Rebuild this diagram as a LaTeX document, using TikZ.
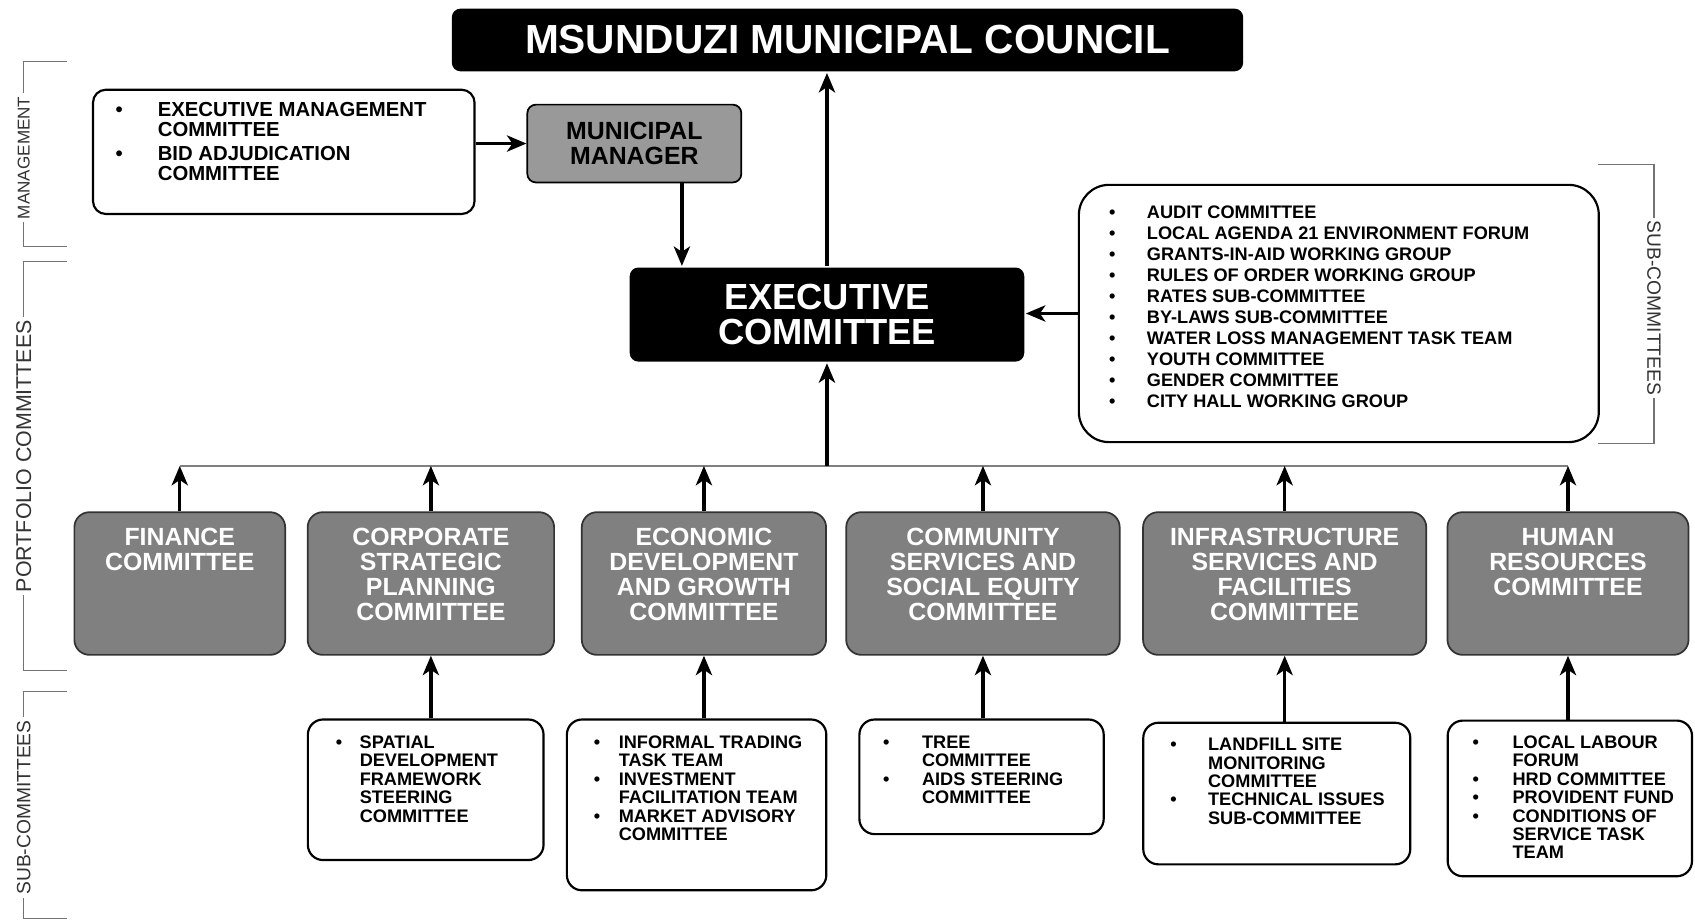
\documentclass[tikz,border=0pt]{standalone}
\usepackage{fontspec}
\setmainfont{Liberation Sans}
\usepackage{tikz}
\usetikzlibrary{arrows.meta,positioning}
\tikzstyle{council}=[rectangle, rounded corners=4pt, fill=black, text=white, inner sep=0pt, align=center]
\tikzstyle{mm}=[rectangle, draw=black, line width=0.8pt, rounded corners=4pt, fill=black!40, inner sep=0pt, align=center, font=\fontsize{11.5}{11.5}\selectfont\bfseries]
\tikzstyle{port}=[rectangle, draw=black!80, line width=0.8pt, rounded corners=7pt, fill=black!50, text=white, inner sep=0pt, font=\fontsize{11.5}{11.5}\selectfont\bfseries]
\tikzstyle{blist}=[rectangle, draw=black, line width=1pt, rounded corners=7pt, fill=white, inner sep=0pt, font=\fontsize{8.4}{8.5}\selectfont\bfseries]
\tikzstyle{bracket}=[-, draw=black!55, line width=0.6pt]
\tikzstyle{side}=[fill=white, inner sep=1.5pt, text=black!80]
\newcommand{\boxtxt}[4]{\parbox[c][#2][t]{#1}{\vspace*{#3}#4}}

\begin{document}
\begin{tikzpicture}[x=0.5pt, y=-0.5pt, ->, >={Stealth[length=9pt,width=7.5pt,inset=2.5pt]}, line width=1.5pt]
\useasboundingbox (0,0) rectangle (1568,854);
%
  \node[council, font=\fontsize{18.8}{20}\selectfont\bfseries, minimum width=366pt, minimum height=29pt] (council) at (784,37) {MSUNDUZI MUNICIPAL COUNCIL};
  \node[blist, rounded corners=6pt, anchor=north west, font=\fontsize{9.4}{9}\selectfont\bfseries] (mlist) at (85,82) {\boxtxt{176.5pt}{57.5pt}{6pt}{\hspace*{10.5pt}\begin{tabular}[t]{@{}p{19.5pt}@{}l@{}}
    \textbullet & EXECUTIVE MANAGEMENT\\
     & COMMITTEE\\[1.5pt]
    \textbullet & BID ADJUDICATION\\
     & COMMITTEE
  \end{tabular}}};
  \node[mm, anchor=north west, minimum width=99pt, minimum height=36pt] (mm) at (487,96) {MUNICIPAL\\MANAGER};
  \node[council, font=\fontsize{16.8}{16.5}\selectfont\bfseries, anchor=north west, minimum width=182.5pt, minimum height=43.5pt] (exec) at (581,246) {EXECUTIVE\\COMMITTEE};
  \node[blist, rounded corners=14pt, anchor=north west, font=\fontsize{8.4}{9.7}\selectfont\bfseries] (subs) at (997,170) {\boxtxt{240.5pt}{119pt}{9pt}{\hspace*{14pt}\begin{tabular}[t]{@{}p{17.5pt}@{}l@{}}
    \textbullet & AUDIT COMMITTEE\\
    \textbullet & LOCAL AGENDA 21 ENVIRONMENT FORUM\\
    \textbullet & GRANTS-IN-AID WORKING GROUP\\
    \textbullet & RULES OF ORDER WORKING GROUP\\
    \textbullet & RATES SUB-COMMITTEE\\
    \textbullet & BY-LAWS SUB-COMMITTEE\\
    \textbullet & WATER LOSS MANAGEMENT TASK TEAM\\
    \textbullet & YOUTH COMMITTEE\\
    \textbullet & GENDER COMMITTEE\\
    \textbullet & CITY HALL WORKING GROUP
  \end{tabular}}};
%
  \path[]
  (mlist.east |- mm.west) edge (mm.west)
  ([xshift=22pt]mm.south) edge ([xshift=22pt]mm.south |- exec.north)
  (exec.north) edge[line width=2.2pt] (exec.north |- council.south)
  (subs.west) edge (subs.west -| exec.east);
%
  \node[port, anchor=north west] (fin) at (68,473) {\boxtxt{97.5pt}{66pt}{7.5pt}{\centering FINANCE\\COMMITTEE}};
  \node[port] (corp) [right = 9.6pt of fin] {\boxtxt{114pt}{66pt}{7.5pt}{\centering CORPORATE\\STRATEGIC\\PLANNING\\COMMITTEE}};
  \node[port] (econ) [right = 12pt of corp] {\boxtxt{113pt}{66pt}{7.5pt}{\centering ECONOMIC\\DEVELOPMENT\\AND GROWTH\\COMMITTEE}};
  \node[port] (comm) [right = 8.5pt of econ] {\boxtxt{126.5pt}{66pt}{7.5pt}{\centering COMMUNITY\\SERVICES AND\\SOCIAL EQUITY\\COMMITTEE}};
  \node[port] (infra) [right = 10pt of comm] {\boxtxt{131pt}{66pt}{7.5pt}{\centering INFRASTRUCTURE\\SERVICES AND\\FACILITIES\\COMMITTEE}};
  \node[port] (hr) [right = 9pt of infra] {\boxtxt{111.5pt}{66pt}{7.5pt}{\centering HUMAN\\RESOURCES\\COMMITTEE}};
%
  \coordinate (bus) at (765,431);
  \draw[-, draw=black!50, line width=1pt] (fin.north |- bus) -- (hr.north |- bus);
  \path[]
  (exec.south |- bus) edge[line width=2.2pt] (exec.south)
  (fin.north) edge (fin.north |- bus)
  (corp.north) edge (corp.north |- bus)
  (econ.north) edge (econ.north |- bus)
  (comm.north) edge (comm.north |- bus)
  (infra.north) edge (infra.north |- bus)
  (hr.north) edge (hr.north |- bus);
%
  \node[blist] (sdf) [below right = 29pt and 0pt of corp.south west] {\boxtxt{109pt}{65pt}{7.5pt}{\hspace*{13pt}\begin{tabular}[t]{@{}p{11pt}@{}l@{}}
    \textbullet & SPATIAL\\
     & DEVELOPMENT\\
     & FRAMEWORK\\
     & STEERING\\
     & COMMITTEE
  \end{tabular}}};
  \node[blist] (trade) [below right = 29pt and -7pt of econ.south west] {\boxtxt{120pt}{79pt}{7.5pt}{\hspace*{12.5pt}\begin{tabular}[t]{@{}p{11.5pt}@{}l@{}}
    \textbullet & INFORMAL TRADING\\
     & TASK TEAM\\
    \textbullet & INVESTMENT\\
     & FACILITATION TEAM\\
    \textbullet & MARKET ADVISORY\\
     & COMMITTEE
  \end{tabular}}};
  \node[blist] (tree) [below right = 29pt and 6pt of comm.south west] {\boxtxt{113pt}{53pt}{7.5pt}{\hspace*{11pt}\begin{tabular}[t]{@{}p{18pt}@{}l@{}}
    \textbullet & TREE\\
     & COMMITTEE\\
    \textbullet & AIDS STEERING\\
     & COMMITTEE
  \end{tabular}}};
  \node[blist] (landfill) [below right = 30.5pt and 0pt of infra.south west] {\boxtxt{123.5pt}{65.5pt}{7pt}{\hspace*{12.5pt}\begin{tabular}[t]{@{}p{17.5pt}@{}l@{}}
    \textbullet & LANDFILL SITE\\
     & MONITORING\\
     & COMMITTEE\\
    \textbullet & TECHNICAL ISSUES\\
     & SUB-COMMITTEE
  \end{tabular}}};
  \node[blist] (labour) [below right = 29.5pt and 0pt of hr.south west] {\boxtxt{113pt}{72pt}{7pt}{\hspace*{11.5pt}\begin{tabular}[t]{@{}p{18.5pt}@{}l@{}}
    \textbullet & LOCAL LABOUR\\
     & FORUM\\
    \textbullet & HRD COMMITTEE\\
    \textbullet & PROVIDENT FUND\\
    \textbullet & CONDITIONS OF\\
     & SERVICE TASK\\
     & TEAM
  \end{tabular}}};
%
  \path[]
  (corp.south |- sdf.north) edge (corp.south)
  (econ.south |- trade.north) edge (econ.south)
  (comm.south |- tree.north) edge (comm.south)
  (infra.south |- landfill.north) edge (infra.south)
  (hr.south |- labour.north) edge (hr.south);
%
  \draw[bracket] (62,57) -- (22,57) -- (22,228) -- (62,228);
  \draw[bracket] (62,242) -- (22,242) -- (22,620) -- (62,620);
  \draw[bracket] (62,640) -- (22,640) -- (22,850) -- (62,850);
  \draw[bracket] (1478,152) -- (1530,152) -- (1530,410) -- (1478,410);
  \node[side, rotate=90, font=\fontsize{7.9}{8}\selectfont] (lmgmt) at (22,146) {MANAGEMENT};
  \node[side, rotate=90, font=\fontsize{9.9}{10}\selectfont] (lport) at (22,422) {PORTFOLIO COMMITTEES};
  \node[side, rotate=90, font=\fontsize{8.9}{9}\selectfont] (lsub) at (22,747) {SUB-COMMITTEES};
  \node[side, rotate=-90, font=\fontsize{8.9}{9}\selectfont] (rsub) at (1530,285) {SUB-COMMITTEES};
\end{tikzpicture}
\end{document}
